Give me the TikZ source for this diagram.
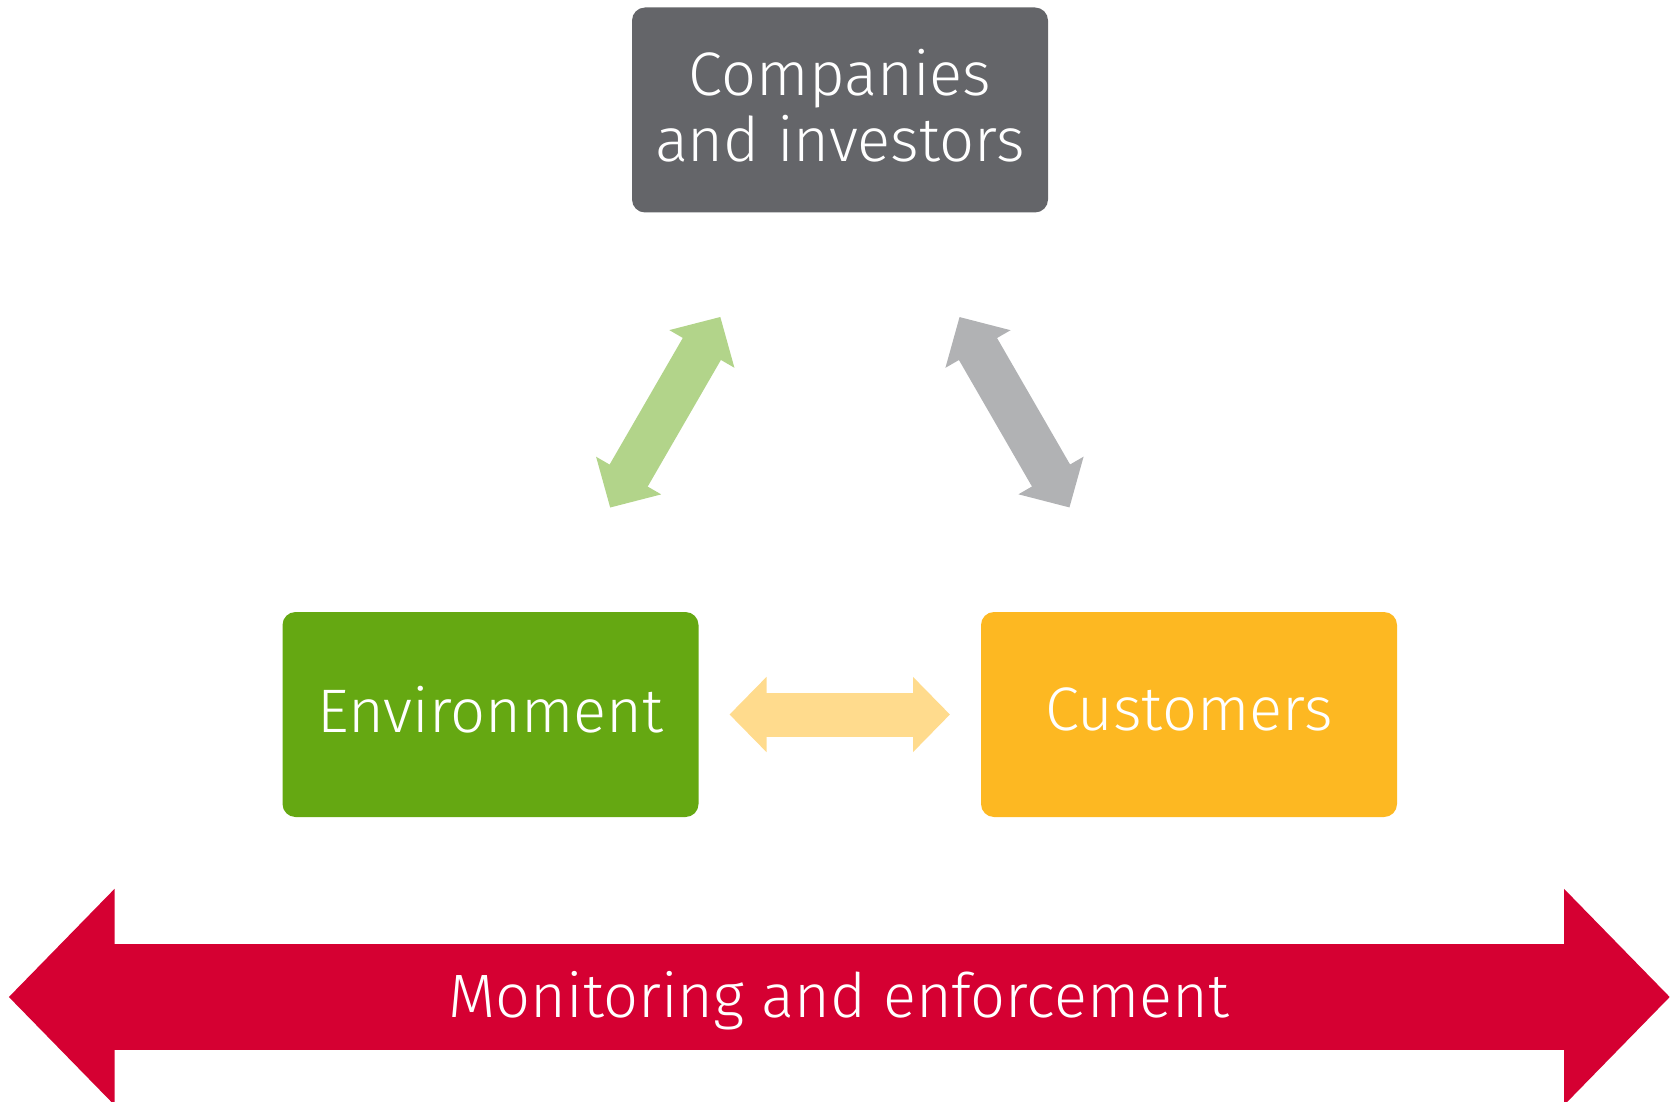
\documentclass[tikz,border=0pt]{standalone}
\usepackage{fontspec}
\setmainfont{Fira Sans Light}
\usetikzlibrary{arrows.meta}
\definecolor{firmgray}{RGB}{100,101,105}
\definecolor{envgreen}{RGB}{101,168,18}
\definecolor{custyellow}{RGB}{253,184,34}
\definecolor{lightgreen}{RGB}{178,212,138}
\definecolor{lightgray}{RGB}{177,178,180}
\definecolor{lightyellow}{RGB}{255,219,141}
\definecolor{monred}{RGB}{213,0,50}
\begin{document}
\begin{tikzpicture}[x=1pt,y=-1pt,
  box/.style={rounded corners=13pt,minimum width=416pt,minimum height=205pt,
    inner sep=0pt,text depth=10pt,text=white,align=center,
    font=\fontsize{61.5}{66}\selectfont},
  link/.style={line width=44pt,
    {Triangle[width=73pt,length=37pt]}-{Triangle[width=73pt,length=37pt]},
    shorten <=239pt,shorten >=239pt}]
\useasboundingbox (0,0) rectangle (1679,1102);
\node[box,fill=firmgray] (firms) at (840,110) {Companies\\and investors};
\node[box,fill=envgreen] (env) at (490.5,714.5) {Environment};
\node[box,fill=custyellow] (cust) at (1189,714.5) {Customers};
\draw[link,lightgreen] (env.center) -- (firms.center);
\draw[link,lightgray] (firms.center) -- (cust.center);
\draw[link,lightyellow] (env.center) -- (cust.center);
% band along the bottom
\coordinate (monl) at (8.6,997);
\coordinate (monr) at (1670,997);
\draw[line width=106pt,monred,
  {Triangle[width=210pt,length=106pt]}-{Triangle[width=210pt,length=106pt]}]
  (monl) -- (monr);
\node[text=white,font=\fontsize{61.3}{66}\selectfont] (mon) at (839,1001) {Monitoring and enforcement};
\end{tikzpicture}
\end{document}
